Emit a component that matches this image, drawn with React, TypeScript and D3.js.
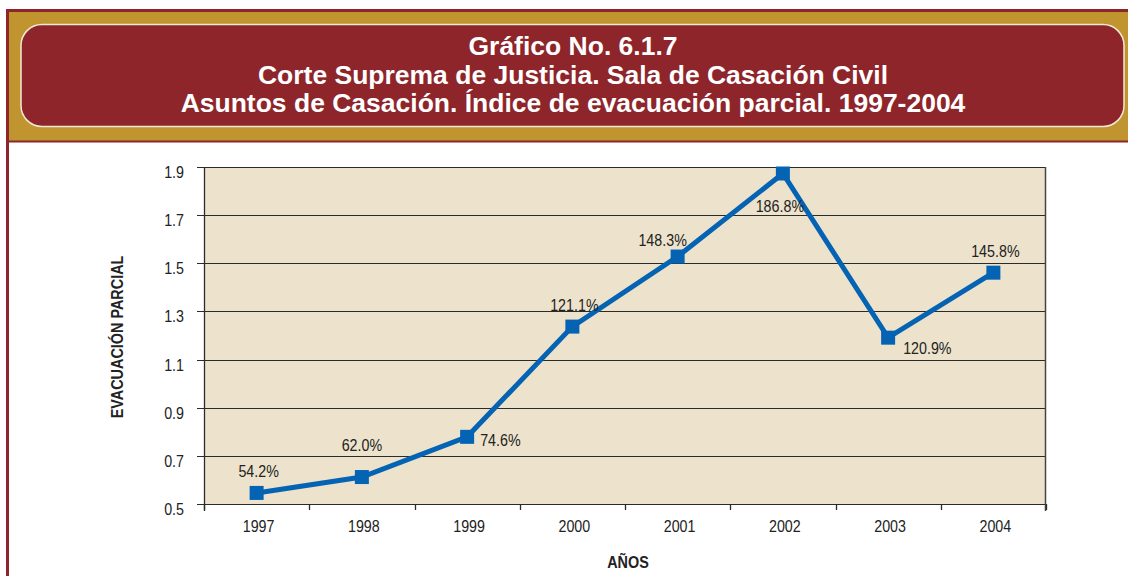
import React from 'react';
import * as d3 from 'd3';

const years = ['1997', '1998', '1999', '2000', '2001', '2002', '2003', '2004'];
// plotted values
const values = [0.546, 0.612, 0.779, 1.237, 1.528, 1.873, 1.191, 1.461];
const valueLabels = ['54.2%', '62.0%', '74.6%', '121.1%', '148.3%', '186.8%', '120.9%', '145.8%'];
const yTicks = [0.5, 0.7, 0.9, 1.1, 1.3, 1.5, 1.7, 1.9];
const titleLines = [
    'Gráfico No. 6.1.7',
    'Corte Suprema de Justicia. Sala de Casación Civil',
    'Asuntos de Casación. Índice de evacuación parcial. 1997-2004',
];

// where each value label sits relative to its marker
const labelPlacement = ['above', 'aboveHigh', 'right', 'above', 'aboveLeft', 'below', 'belowRight', 'above'];

const W = 1128;
const H = 576;
const margin = { top: 167, right: 82, bottom: 71, left: 204 };

const RED = '#8e252b';
const GOLD = '#c0952f';
const BLUE = '#0563b4';
const FONT = "'Liberation Sans', Arial, sans-serif";

const offsets: Record<string, [number, number, string]> = {
    above: [2, -16, 'middle'],
    aboveHigh: [0, -26, 'middle'],
    right: [13, 9, 'start'],
    aboveLeft: [-15, -11, 'middle'],
    below: [-3, 39, 'middle'],
    belowRight: [15, 16, 'start'],
};

// the reference uses a condensed face, so squeeze regular text horizontally
const Squeezed: React.FC<{ x: number; y: number; sx?: number; anchor?: string; size?: number; weight?: string; fill?: string; children: React.ReactNode }> =
    ({ x, y, sx = 0.84, anchor = 'middle', size = 17, weight = 'normal', fill = '#222', children }) => (
        <text transform={`translate(${x},${y}) scale(${sx},1)`} textAnchor={anchor as any}
            fontFamily={FONT} fontSize={size} fontWeight={weight} fill={fill}>{children}</text>
    );

const App: React.FC = () => {
    const x = d3.scaleBand()
        .domain(years)
        .range([margin.left, W - margin.right]);

    const y = d3.scaleLinear()
        .domain([0.5, 1.9])
        .range([H - margin.bottom - 1, margin.top]);

    const cx = (i: number) => (x(years[i]) || 0) + x.bandwidth() / 2;

    const line = d3.line<number>()
        .x((_, i) => cx(i))
        .y((d) => y(d));

    const plotL = margin.left;
    const plotR = W - margin.right;
    const plotT = margin.top;
    const plotB = y(0.5);

    const tickXs = years.map((yr) => x(yr) || 0).concat([plotR]);

    return (
        <svg width={W} height={H} style={{ position: 'absolute', left: 0, top: 0, background: '#fff' }}>
            {/* header frame */}
            <rect x={7.5} y={10.5} width={W + 10} height={H + 10} fill="#fff" stroke={RED} strokeWidth={3} />
            <rect x={9} y={12} width={W} height={129} fill={GOLD} />
            <line x1={9} x2={W} y1={141.5} y2={141.5} stroke={RED} strokeWidth={2} />
            <rect x={21} y={24.5} width={1103} height={102} rx={21} ry={21} fill={RED} stroke="#f3ead6" strokeWidth={1.5} />
            {titleLines.map((t, i) => (
                <Squeezed key={i} x={573} y={55 + i * 28.5} sx={1.06} size={25} weight="bold" fill="#fff">{t}</Squeezed>
            ))}

            {/* plot area */}
            <rect x={plotL} y={plotT} width={plotR - plotL} height={plotB - plotT} fill="#ede3cc" />
            {yTicks.map((t) => (
                <g key={t}>
                    <line x1={plotL - 7} x2={plotR} y1={Math.round(y(t)) + 0.5} y2={Math.round(y(t)) + 0.5}
                        stroke="#2b2b2b" strokeWidth={1} />
                    <Squeezed x={184} y={y(t) + 11} anchor="end">{t.toFixed(1)}</Squeezed>
                </g>
            ))}
            <line x1={plotL + 0.5} x2={plotL + 0.5} y1={plotT} y2={plotB + 7} stroke="#2b2b2b" strokeWidth={1.3} />
            <line x1={plotR - 0.5} x2={plotR - 0.5} y1={plotT} y2={plotB + 7} stroke="#444" strokeWidth={1.5} />
            {tickXs.map((tx, i) => (
                <line key={i} x1={Math.round(tx) + 0.5} x2={Math.round(tx) + 0.5} y1={plotB} y2={plotB + 6}
                    stroke="#2b2b2b" strokeWidth={1.3} />
            ))}
            {years.map((yr, i) => (
                <Squeezed key={yr} x={cx(i) + 2} y={plotB + 28}>{yr}</Squeezed>
            ))}

            {/* series */}
            <path d={line(values) || ''} fill="none" stroke={BLUE} strokeWidth={5} strokeLinejoin="miter" />
            {values.map((v, i) => (
                <rect key={i} x={cx(i) - 7} y={y(v) - 7} width={14} height={14} fill={BLUE} />
            ))}
            {values.map((v, i) => {
                const [dx, dy, anchor] = offsets[labelPlacement[i]];
                return (
                    <Squeezed key={i} x={cx(i) + dx} y={y(v) + dy} anchor={anchor}>{valueLabels[i]}</Squeezed>
                );
            })}

            {/* axis titles */}
            <text transform={`translate(123, 337) rotate(-90) scale(0.9,1)`} textAnchor="middle" fill="#222"
                fontFamily={FONT} fontWeight="bold" fontSize={16}>EVACUACIÓN  PARCIAL</text>
            <Squeezed x={628} y={568} sx={0.9} size={16} weight="bold">AÑOS</Squeezed>
        </svg>
    );
};

export default App;
